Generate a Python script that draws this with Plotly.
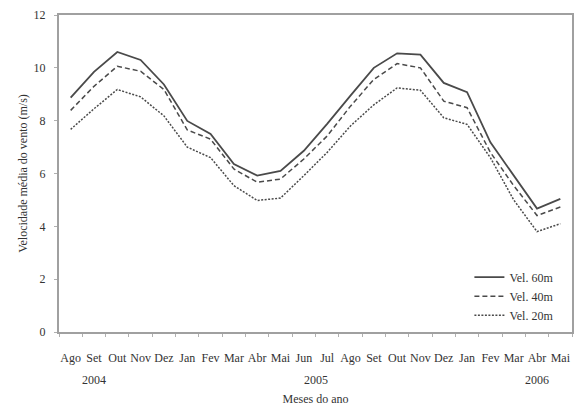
import plotly.graph_objects as go

meses = ["Ago", "Set", "Out", "Nov", "Dez", "Jan", "Fev", "Mar", "Abr", "Mai", "Jun",
         "Jul", "Ago", "Set", "Out", "Nov", "Dez", "Jan", "Fev", "Mar", "Abr", "Mai"]
vel60 = [8.87, 9.85, 10.6, 10.3, 9.37, 7.99, 7.5, 6.36, 5.92, 6.1, 6.86,
         7.88, 8.95, 10.0, 10.55, 10.5, 9.43, 9.08, 7.18, 5.92, 4.67, 5.04]
vel40 = [8.39, 9.3, 10.06, 9.87, 9.18, 7.65, 7.3, 6.17, 5.67, 5.79, 6.55,
         7.42, 8.55, 9.56, 10.16, 10.0, 8.74, 8.49, 6.8, 5.54, 4.41, 4.73]
vel20 = [7.67, 8.45, 9.18, 8.9, 8.18, 7.0, 6.6, 5.54, 4.98, 5.07, 5.92,
         6.8, 7.8, 8.6, 9.24, 9.15, 8.11, 7.86, 6.6, 5.0, 3.8, 4.1]
anos = ["2004", "2005", "2006"]
anos_pos = [1, 10.5, 20]

idx = list(range(len(meses)))
font = "Liberation Serif, Times New Roman, serif"
col = "#4a4a4a"
txt = "#333333"

fig = go.Figure()
fig.add_trace(go.Scatter(x=idx, y=vel60, mode="lines", name="Vel. 60m",
                         line=dict(color=col, width=1.8, dash="solid")))
fig.add_trace(go.Scatter(x=idx, y=vel40, mode="lines", name="Vel. 40m",
                         line=dict(color=col, width=1.5, dash="5px,3px")))
fig.add_trace(go.Scatter(x=idx, y=vel20, mode="lines", name="Vel. 20m",
                         line=dict(color=col, width=1.5, dash="2px,1.5px")))

for a, p in zip(anos, anos_pos):
    fig.add_annotation(x=p, y=0, xref="x", yref="paper", text=a, showarrow=False,
                       yanchor="middle", yshift=-48,
                       font=dict(family=font, size=12, color=txt))

fig.update_layout(
    width=576, height=406,
    margin=dict(l=59, r=2, t=15, b=72),
    paper_bgcolor="white", plot_bgcolor="white",
    font=dict(family=font, size=12, color=txt),
    showlegend=True,
    legend=dict(x=0.80, y=0.113, xanchor="left", yanchor="middle",
                bgcolor="rgba(0,0,0,0)", font=dict(family=font, size=12, color=txt),
                tracegroupgap=0),
    xaxis=dict(range=[-0.5, 21.5], tickmode="array", tickvals=idx, ticktext=meses,
               ticks="", showgrid=False, zeroline=False, ticklabelstandoff=14,
               showline=True, linecolor="#a0a0a0", linewidth=2, mirror=True,
               tickfont=dict(family=font, size=12, color=txt),
               minor=dict(tickmode="array", tickvals=[i - 0.5 for i in range(23)],
                          ticks="outside", ticklen=3, tickcolor="#b0b0b0", showgrid=False),
               title=dict(text="Meses do ano", standoff=30,
                          font=dict(family=font, size=12, color=txt))),
    yaxis=dict(range=[0, 12], dtick=2, showgrid=False, zeroline=False,
               showline=True, linecolor="#a0a0a0", linewidth=2, mirror=True,
               ticks="outside", ticklen=3, tickcolor="#b0b0b0", ticklabelstandoff=6,
               tickfont=dict(family=font, size=12, color=txt),
               title=dict(text="Velocidade média do vento (m/s)", standoff=3,
                          font=dict(family=font, size=12, color=txt))),
)

fig.write_html("out.html", config={"displayModeBar": False},
               post_script="document.body.style.margin='0px';")
